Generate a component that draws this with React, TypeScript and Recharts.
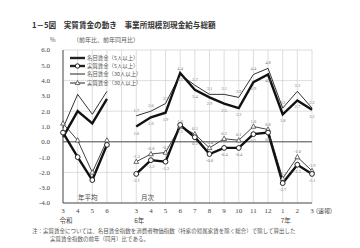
import React from 'react';
import { LineChart, Line, XAxis, YAxis, CartesianGrid, ReferenceLine, LabelList } from 'recharts';

// 横軸：年平均（令和3〜6年）、空き、月次（6年3月〜7年3月）
const categories = ['3', '4', '5', '6', '', '3', '4', '5', '6', '7', '8', '9', '10', '11', '12', '1', '2', '3'];
const subLabels = ['令和', '', '', '', '', '6年', '', '', '', '', '', '', '', '', '', '7年', '', ''];

// 前年比・前年同月比 (%)
const nominal5 = [0.3, 2.0, 1.2, 2.8, null, 1.0, 1.6, 1.9, 4.5, 3.4, 2.9, 2.5, 2.2, 3.9, 4.4, 1.8, 2.7, 2.1];
const real5 = [0.6, -1.0, -2.5, -0.2, null, -2.1, -1.2, -1.3, 1.1, 0.3, -0.8, -0.4, -0.4, 0.5, 0.6, -2.7, -1.5, -2.1];
const nominal30 = [0.9, 3.1, 1.8, 3.3, null, 1.7, 2.0, 2.5, 4.4, 3.7, 3.1, 3.1, 2.9, 4.4, 4.8, 2.2, 3.3, 2.2];
const real30 = [1.2, 0.1, -2.0, 0.1, null, -1.3, -0.8, -0.7, 1.0, 0.5, -0.4, 0.2, 0.1, 1.0, 0.8, -2.4, -1.0, -1.9];

const yTicks = [-4, -3, -2, -1, 0, 1, 2, 3, 4, 5, 6];

const serif = '"Liberation Serif", "DejaVu Serif", "Noto Sans CJK JP", serif';
const jp = '"Noto Sans CJK JP", sans-serif';

const data = categories.map((c, i) => ({
  id: `c${i}`,
  nominal5: nominal5[i],
  real5: real5[i],
  nominal30: nominal30[i],
  real30: real30[i],
}));

const Circle = (p: any) => {
  const { cx, cy, index, value } = p;
  if (cx == null || cy == null || value == null) return <g key={`ci-${index}`} />;
  return <circle key={`ci-${index}`} cx={cx} cy={cy} r={2.4} fill="#fff" stroke="#222" strokeWidth={1} />;
};

const Tri = (p: any) => {
  const { cx, cy, index, value } = p;
  if (cx == null || cy == null || value == null) return <g key={`tr-${index}`} />;
  return (
    <path
      key={`tr-${index}`}
      d={`M${cx},${cy - 2.6}L${cx + 2.4},${cy + 1.7}L${cx - 2.4},${cy + 1.7}Z`}
      fill="#fff"
      stroke="#444"
      strokeWidth={0.8}
    />
  );
};

// 月次のみ数値ラベル
const valueLabel = (pos: 'top' | 'bottom') => (p: any) => {
  const x = p.x ?? p.viewBox?.x;
  const y = p.y ?? p.viewBox?.y;
  if (p.index < 5 || p.value == null || x == null) return null;
  return (
    <text
      key={`lb-${pos}-${p.index}`}
      x={x}
      y={pos === 'top' ? y - 4 : y + 8}
      textAnchor="middle"
      fontSize={4.5}
      fill="#777"
      fontFamily={serif}
    >
      {Number(p.value).toFixed(1)}
    </text>
  );
};

const XTick = (p: any) => {
  const { x, y, index } = p;
  const last = index === categories.length - 1;
  return (
    <g>
      <text x={x} y={y + 10} textAnchor="middle" fontSize={7} fill="#444" fontFamily={serif}>
        {categories[index]}
      </text>
      {last && (
        <text x={x + 4} y={y + 10} fontSize={6} fill="#444" fontFamily={jp}>
          (速報)
        </text>
      )}
      {subLabels[index] && (
        <text x={x + 3} y={y + 20} textAnchor="middle" fontSize={6.5} fill="#444" fontFamily={jp}>
          {subLabels[index]}
        </text>
      )}
    </g>
  );
};

const legendItems = [
  { name: '名目賃金（5人以上）', width: 2.4, mark: 'none' },
  { name: '実質賃金（5人以上）', width: 2.4, mark: 'circle' },
  { name: '名目賃金（30人以上）', width: 1, mark: 'none' },
  { name: '実質賃金（30人以上）', width: 1, mark: 'tri' },
];

const App = () => {
  return (
    <div style={{ position: 'absolute', left: 0, top: 0, width: 360, height: 248, background: '#fff', overflow: 'hidden' }}>
      <div style={{ position: 'absolute', left: 32, top: 19, fontSize: 7.6, fontWeight: 'bold', color: '#333', fontFamily: jp, whiteSpace: 'nowrap' }}>
        1－5図　実質賃金の動き　事業所規模別現金給与総額
      </div>
      <div style={{ position: 'absolute', left: 50, top: 35, fontSize: 6, color: '#555', fontFamily: jp, whiteSpace: 'nowrap' }}>
        %
      </div>
      <div style={{ position: 'absolute', left: 73, top: 35, fontSize: 6, color: '#555', fontFamily: jp, whiteSpace: 'nowrap' }}>
        （前年比、前年同月比）
      </div>

      <div style={{ position: 'absolute', left: 0, top: 0 }}>
        <LineChart width={360} height={248} data={data} margin={{ top: 50, right: 48, bottom: 15, left: 33 }}>
          <CartesianGrid stroke="#c8c8c8" strokeWidth={0.6} />
          <XAxis
            dataKey="id"
            interval={0}
            height={30}
            tickLine={false}
            tickSize={0}
            tickMargin={0}
            tick={<XTick />}
            axisLine={{ stroke: '#555', strokeWidth: 1 }}
          />
          <YAxis
            type="number"
            domain={[-4, 6]}
            ticks={yTicks}
            width={30}
            tickLine={false}
            tickSize={6}
            tickMargin={7}
            tickFormatter={(v: number) => v.toFixed(1)}
            tick={{ fontSize: 7, fill: '#444', fontFamily: serif }}
            axisLine={{ stroke: '#555', strokeWidth: 1 }}
          />
          <ReferenceLine y={0} stroke="#555" strokeWidth={1} />
          <Line dataKey="nominal30" stroke="#333" strokeWidth={1} dot={false} isAnimationActive={false}>
            <LabelList dataKey="nominal30" content={valueLabel('top')} />
          </Line>
          <Line dataKey="real30" stroke="#444" strokeWidth={1} dot={Tri} activeDot={false} isAnimationActive={false}>
            <LabelList dataKey="real30" content={valueLabel('top')} />
          </Line>
          <Line dataKey="nominal5" stroke="#111" strokeWidth={2.4} dot={false} isAnimationActive={false}>
            <LabelList dataKey="nominal5" content={valueLabel('bottom')} />
          </Line>
          <Line dataKey="real5" stroke="#111" strokeWidth={2.4} dot={Circle} activeDot={false} isAnimationActive={false}>
            <LabelList dataKey="real5" content={valueLabel('bottom')} />
          </Line>
        </LineChart>
      </div>

      <div style={{ position: 'absolute', left: 70, top: 54, fontFamily: jp, fontSize: 5.4, color: '#555' }}>
        {legendItems.map((it) => (
          <div key={it.name} style={{ display: 'flex', alignItems: 'center', height: 8.2, whiteSpace: 'nowrap' }}>
            <svg width={15} height={8} style={{ marginRight: 2 }}>
              <line x1={0} y1={4} x2={15} y2={4} stroke="#222" strokeWidth={it.width} />
              {it.mark === 'circle' && <circle cx={7.5} cy={4} r={2.2} fill="#fff" stroke="#222" strokeWidth={1} />}
              {it.mark === 'tri' && <path d="M7.5,1.5L9.8,5.6L5.2,5.6Z" fill="#fff" stroke="#444" strokeWidth={0.8} />}
            </svg>
            {it.name}
          </div>
        ))}
      </div>

      <div style={{ position: 'absolute', left: 78, top: 192, fontSize: 6.5, color: '#444', fontFamily: jp }}>年平均</div>
      <div style={{ position: 'absolute', left: 141, top: 192, fontSize: 6.5, color: '#444', fontFamily: jp }}>月次</div>

      <div style={{ position: 'absolute', left: 32, top: 227, fontSize: 5.5, color: '#555', fontFamily: jp, whiteSpace: 'nowrap' }}>
        注：実質賃金については、名目賃金指数を消費者物価指数（持家の帰属家賃を除く総合）で除して算出した
      </div>
      <div style={{ position: 'absolute', left: 50, top: 235, fontSize: 5.5, color: '#555', fontFamily: jp, whiteSpace: 'nowrap' }}>
        実質賃金指数の前年（同月）比である。
      </div>
    </div>
  );
};

export default App;
